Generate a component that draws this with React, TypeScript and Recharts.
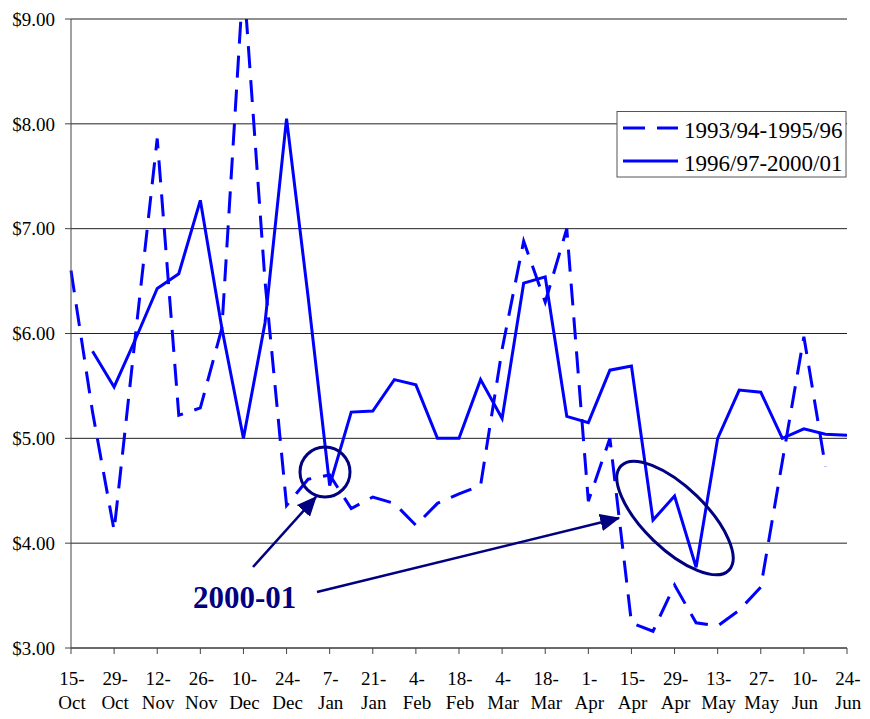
import React from 'react'
import { LineChart, Line, XAxis, YAxis, CartesianGrid } from 'recharts'

const weeks = [
  '15-Oct', '22-Oct', '29-Oct', '5-Nov', '12-Nov', '19-Nov', '26-Nov', '3-Dec', '10-Dec', '17-Dec',
  '24-Dec', '31-Dec', '7-Jan', '14-Jan', '21-Jan', '28-Jan', '4-Feb', '11-Feb', '18-Feb', '25-Feb',
  '4-Mar', '11-Mar', '18-Mar', '25-Mar', '1-Apr', '8-Apr', '15-Apr', '22-Apr', '29-Apr', '6-May',
  '13-May', '20-May', '27-May', '3-Jun', '10-Jun', '17-Jun', '24-Jun',
]

// 1993/94-1995/96 average (dashed)
const earlyName = '1993/94-1995/96'
const earlyPrices = [
  6.60, 5.25, 4.12, 6.00, 7.86, 5.22, 5.29, 6.05, 9.40, 6.50,
  4.36, 4.61, 4.65, 4.33, 4.44, 4.38, 4.17, 4.38, 4.47, 4.55,
  5.85, 6.88, 6.30, 7.00, 4.40, 5.00, 3.24, 3.16, 3.60, 3.24,
  3.21, 3.36, 3.58, 4.78, 5.97, 4.73, null,
]

// 1996/97-2000/01 average (solid)
const recentName = '1996/97-2000/01'
const recentPrices = [
  null, 5.83, 5.49, 5.95, 6.43, 6.57, 7.27, 6.05, 5.00, 6.10,
  8.05, 6.35, 4.55, 5.25, 5.26, 5.56, 5.51, 5.00, 5.00, 5.56,
  5.19, 6.48, 6.54, 5.21, 5.15, 5.65, 5.69, 4.22, 4.45, 3.77,
  5.00, 5.46, 5.44, 5.00, 5.09, 5.04, 5.03,
]

const priceTicks = [3, 4, 5, 6, 7, 8, 9]

const data = weeks.map((week, i) => ({ week, early: earlyPrices[i], recent: recentPrices[i] }))

const serif = '"Liberation Serif", "Times New Roman", serif'
const blue = '#0000FF'
const navy = '#000080'
const dash = '22 12'

function WeekTick(props: any) {
  const { x, y, payload } = props
  const [day, month] = String(payload.value).split('-')
  return (
    <text x={x + 1} y={y} textAnchor="middle" fontFamily={serif} fontSize={19} fill="#000">
      <tspan x={x + 1} dy={29}>{day}-</tspan>
      <tspan x={x + 1} dy={23.5}>{month}</tspan>
    </text>
  )
}

function Overlay() {
  return (
    <svg width={870} height={719} style={{ position: 'absolute', left: 0, top: 0, pointerEvents: 'none' }}>
      <defs>
        <marker id="head" markerWidth="8" markerHeight="7" refX="7.5" refY="3.5" orient="auto" markerUnits="strokeWidth">
          <path d="M0,0 L8,3.5 L0,7 Z" fill={navy} />
        </marker>
      </defs>
      {/* legend */}
      <rect x={617} y={111.5} width={229} height={65.5} fill="#fff" stroke="#555" strokeWidth={1} />
      <line x1={623} y1={128} x2={678} y2={128} stroke={blue} strokeWidth={3} strokeDasharray={dash} />
      <text x={684} y={138} fontFamily={serif} fontSize={23} fill="#000">{earlyName}</text>
      <line x1={623} y1={161} x2={678} y2={161} stroke={blue} strokeWidth={3} />
      <text x={684} y={171} fontFamily={serif} fontSize={23} fill="#000">{recentName}</text>
      {/* annotations */}
      <circle cx={325} cy={472} r={25} fill="none" stroke={navy} strokeWidth={3} />
      <ellipse cx={675} cy={518} rx={75} ry={31} transform="rotate(44 675 518)" fill="none" stroke={navy} strokeWidth={3} />
      <line x1={253} y1={567} x2={316} y2={497} stroke={navy} strokeWidth={2.5} markerEnd="url(#head)" />
      <line x1={317} y1={592} x2={619} y2={518} stroke={navy} strokeWidth={2.5} markerEnd="url(#head)" />
      <text x={193} y={608} fontFamily={serif} fontSize={31} fontWeight="bold" fill={navy}>2000-01</text>
    </svg>
  )
}

export default function App() {
  return (
    <div style={{ position: 'absolute', left: 0, top: 0, width: 870, height: 719, background: '#fff' }}>
      <LineChart width={870} height={719} data={data} margin={{ top: 19, right: 23, left: 0, bottom: 0 }}>
        <CartesianGrid vertical={false} stroke="#222" strokeWidth={1} />
        <XAxis
          dataKey="week"
          interval={1}
          height={71}
          tickSize={6}
          tickMargin={2}
          tick={<WeekTick />}
          axisLine={{ stroke: '#444' }}
          tickLine={{ stroke: '#444' }}
        />
        <YAxis
          domain={[3, 9]}
          allowDataOverflow
          ticks={priceTicks}
          width={71}
          tickSize={6}
          tickMargin={10}
          tickFormatter={(v: number) => '$' + v.toFixed(2)}
          tick={{ fontFamily: serif, fontSize: 19, fill: '#000' }}
          axisLine={{ stroke: '#444' }}
          tickLine={{ stroke: '#444' }}
        />
        <Line
          type="linear"
          dataKey="early"
          name={earlyName}
          stroke={blue}
          strokeWidth={3}
          strokeDasharray={dash}
          dot={false}
          isAnimationActive={false}
        />
        <Line
          type="linear"
          dataKey="recent"
          name={recentName}
          stroke={blue}
          strokeWidth={3}
          dot={false}
          isAnimationActive={false}
        />
      </LineChart>
      <Overlay />
    </div>
  )
}
